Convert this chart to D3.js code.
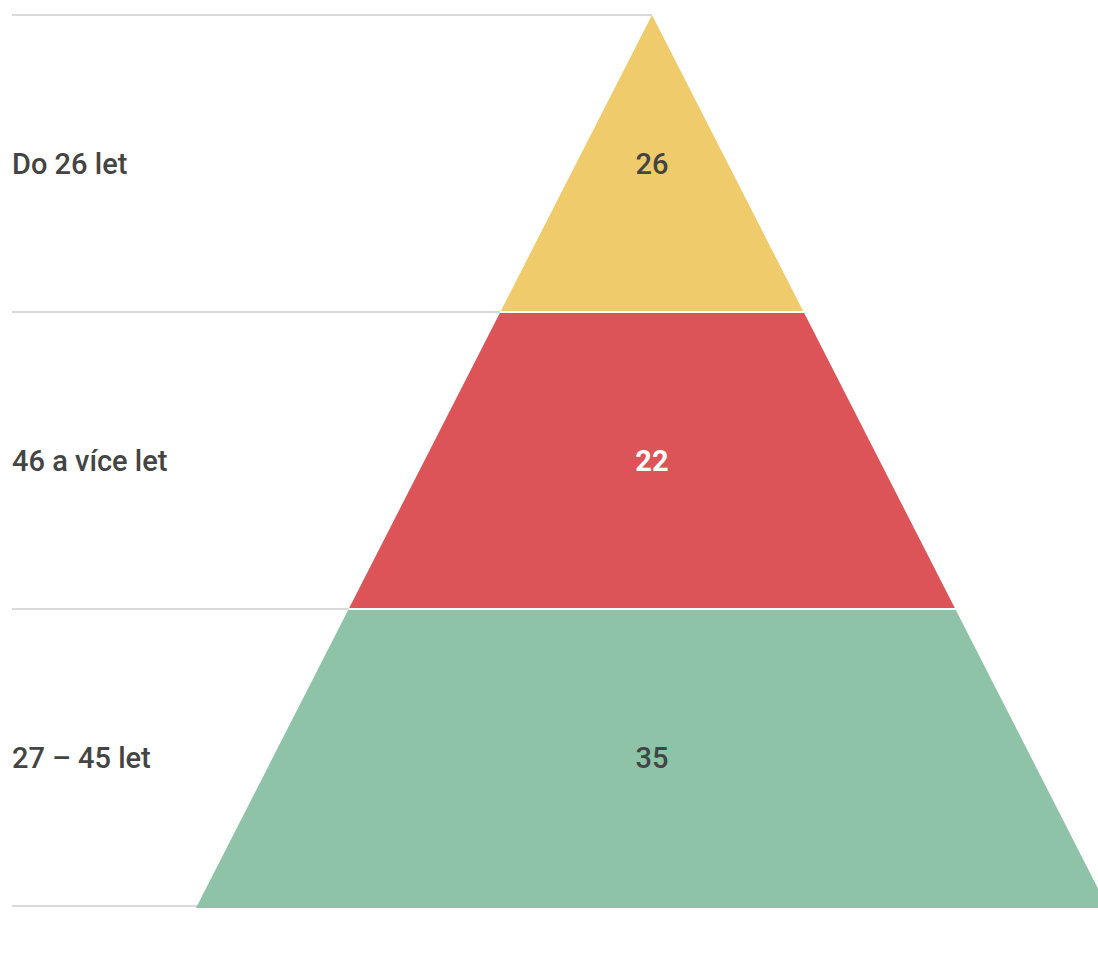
<!DOCTYPE html>
<html lang="cs">
<head>
    <meta charset="UTF-8">
    <title>Pyramida</title>
    <style>
        body {
            margin: 0;
            background: #FFFFFF;
        }
    </style>
</head>
<body>
<div id="chart"></div>
<script src="https://d3js.org/d3.v7.min.js"></script>
<script>
    // data, top to bottom
    const categories = ["Do 26 let", "46 a více let", "27 – 45 let"];
    const values = [26, 22, 35];
    const colors = ["#EFCB6B", "#DC5457", "#8FC3A8"];
    const labelColors = ["#444444", "#FFFFFF", "#444444"];

    const width = 1098, height = 971;
    const topY = 15, bottomY = 906;
    const cx = 652;       // apex x
    const lineLeft = 12;

    const svg = d3.select("#chart")
        .append("svg")
        .attr("width", width)
        .attr("height", height);

    // vertical slots, one per category
    const y = d3.scaleBand()
        .domain(categories)
        .range([topY, bottomY])
        .paddingInner(0);

    // half width of pyramid as function of y
    const half = d3.scaleLinear()
        .domain([topY, bottomY])
        .range([0, 455]);

    const gap = 1;

    const data = categories.map((c, i) => ({cat: c, value: values[i], i: i}));

    // guide lines at the top of every slot and at the bottom
    const lineYs = categories.map(c => y(c)).concat([bottomY]);
    svg.selectAll(".guide")
        .data(lineYs)
        .join("line")
        .attr("class", "guide")
        .attr("x1", lineLeft)
        .attr("x2", d => cx - half(d))
        .attr("y1", d => d)
        .attr("y2", d => d)
        .attr("stroke", "#D9D9D9")
        .attr("stroke-width", 2);

    // pyramid segments
    svg.selectAll(".seg")
        .data(data)
        .join("path")
        .attr("class", "seg")
        .attr("fill", d => colors[d.i])
        .attr("d", d => {
            const y0 = y(d.cat) + (d.i === 0 ? 0 : gap);
            const y1 = y(d.cat) + y.bandwidth() - gap + (d.i === categories.length - 1 ? 3 : 0);
            return "M" + (cx - half(y0)) + "," + y0 +
                "L" + (cx + half(y0)) + "," + y0 +
                "L" + (cx + half(y1)) + "," + y1 +
                "L" + (cx - half(y1)) + "," + y1 + "Z";
        });

    // category labels on the left
    svg.selectAll(".cat")
        .data(data)
        .join("text")
        .attr("class", "cat")
        .attr("x", lineLeft)
        .attr("y", d => y(d.cat) + y.bandwidth() / 2)
        .attr("dy", "0.35em")
        .style("font-family", "Roboto, sans-serif")
        .style("font-size", "29px")
        .style("font-weight", 500)
        .style("fill", "#444444")
        .text(d => d.cat);

    // values inside pyramid
    svg.selectAll(".val")
        .data(data)
        .join("text")
        .attr("class", "val")
        .attr("x", cx)
        .attr("y", d => y(d.cat) + y.bandwidth() / 2)
        .attr("dy", "0.35em")
        .attr("text-anchor", "middle")
        .style("font-family", "Roboto, sans-serif")
        .style("font-size", "29px")
        .style("font-weight", d => d.i === 1 ? 700 : 500)
        .style("fill", d => labelColors[d.i])
        .text(d => d.value);
</script>
</body>
</html>
